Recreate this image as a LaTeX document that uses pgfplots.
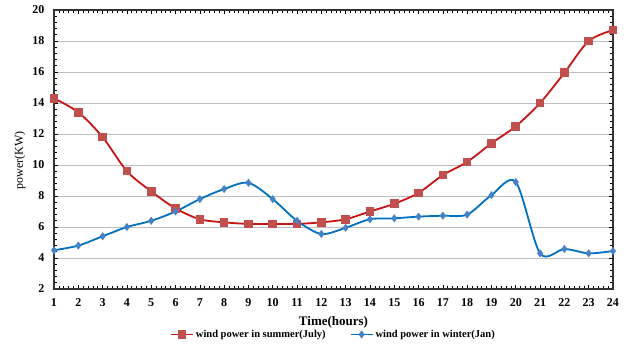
\documentclass[border=0pt]{standalone}
\usepackage{pgfplots}
\pgfplotsset{compat=1.18}
\usepackage{fontspec}
\setmainfont{Liberation Serif}
\definecolor{redline}{RGB}{200,20,20}
\definecolor{redmark}{RGB}{192,80,77}
\definecolor{blueline}{RGB}{0,112,192}
\definecolor{bluemark}{RGB}{70,130,200}
\begin{document}
\begin{tikzpicture}
\begin{axis}[
  scale only axis,
  anchor=south west, at={(0,0)},
  width=559pt, height=279pt,
  xmin=1, xmax=24, ymin=2, ymax=20,
  xtick={1,...,24}, ytick={2,4,...,20},
  minor x tick num=4, minor y tick num=4,
  ymajorgrids, major grid style={gray!50, line width=0.9pt},
  axis line style={black!80, line width=1.3pt},
  tick style={black, line width=0.6pt},
  tick align=inside,
  ticklabel style={font=\fontsize{12}{13}\selectfont\bfseries},
  xticklabel style={yshift=-6pt},
  yticklabel style={xshift=-6pt},
  /pgf/number format/assume math mode=true,
  xlabel={\bfseries Time(hours)},
  ylabel={power(KW)},
  xlabel style={font=\fontsize{13}{14}\selectfont, at={(axis description cs:0.5,-0.12)}, anchor=center},
  ylabel style={font=\fontsize{12}{13}\selectfont, at={(axis description cs:-0.061,0.46)}, anchor=center},
  legend columns=2,
  legend style={draw=none, fill=none, at={(0.5,-0.163)}, anchor=center, font=\fontsize{10.5}{11}\selectfont\bfseries, /tikz/every even column/.append style={column sep=22pt}, inner sep=0pt},
  legend image code/.code={\draw[#1] (0pt,0pt) -- (22pt,0pt); \path[#1,only marks] plot coordinates {(11pt,0pt)};},
]
\addplot[redline, line width=1.8pt, smooth, mark=square*, mark size=3.4pt, mark options={fill=redmark, draw=redmark}] coordinates {
(1,14.3)(2,13.4)(3,11.8)(4,9.6)(5,8.3)(6,7.2)(7,6.5)(8,6.3)(9,6.2)(10,6.2)(11,6.2)(12,6.3)(13,6.5)(14,7.0)(15,7.5)(16,8.2)(17,9.35)(18,10.2)(19,11.4)(20,12.5)(21,14.0)(22,15.95)(23,18.0)(24,18.7)};
\addlegendentry{wind power in summer(July)}
\addplot[blueline, line width=1.8pt, smooth, mark=diamond*, mark size=2.6pt, mark options={fill=bluemark, draw=bluemark}] coordinates {
(1,4.5)(2,4.8)(3,5.4)(4,6.0)(5,6.4)(6,7.0)(7,7.8)(8,8.45)(9,8.85)(10,7.8)(11,6.4)(12,5.55)(13,5.95)(14,6.5)(15,6.56)(16,6.67)(17,6.73)(18,6.8)(19,8.06)(20,8.9)(21,4.3)(22,4.58)(23,4.3)(24,4.45)};
\addlegendentry{wind power in winter(Jan)}
\end{axis}
\pgfresetboundingbox
\path[use as bounding box] (-54pt,-56pt) rectangle (579pt,289pt);
\end{tikzpicture}
\end{document}
